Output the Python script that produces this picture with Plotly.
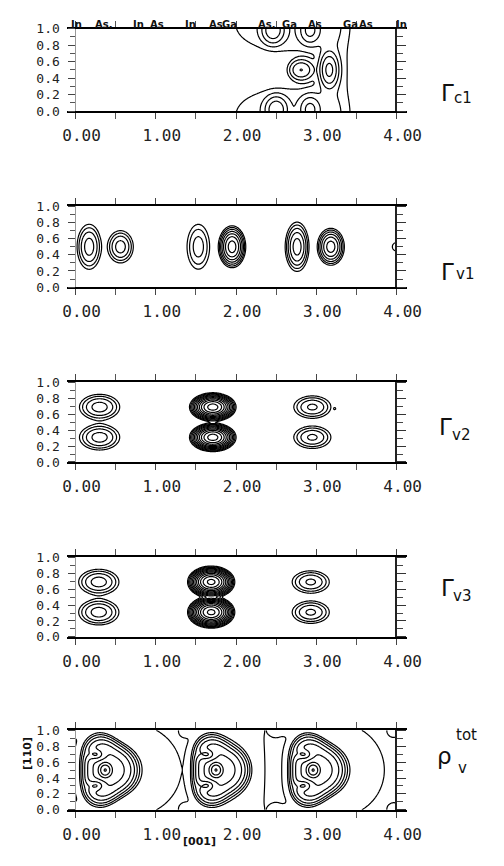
import numpy as np
import plotly.graph_objects as go

W, H = 504, 866

# ---------------- data ----------------
x_tick_vals = [0, 1, 2, 3, 4]
x_tick_text = ["0.00", "1.00", "2.00", "3.00", "4.00"]
y_tick_vals = [0.0, 0.2, 0.4, 0.6, 0.8, 1.0]
y_tick_text = ["0.0", "0.2", "0.4", "0.6", "0.8", "1.0"]

atom_labels = ["In", "As.", "In", "As", "In", "As", "Ga", "As.", "Ga", "As", "Ga", "As", "In"]
atom_x = [0.01, 0.35, 0.79, 1.02, 1.43, 1.75, 1.92, 2.39, 2.67, 2.98, 3.42, 3.62, 4.06]

# lobe parameters:
# centre x, centre y, peak height, width x, width y, shape exponent, triangularity
c1_x = [2.46, 2.92, 2.50, 2.92, 2.81, 3.16, 2.60, 2.60, 3.21]
c1_y = [0.98, 0.98, 0.02, 0.02, 0.50, 0.50, 1.05, -0.05, 0.50]
c1_amp = [4.5, 3.0, 4.5, 3.0, 2.8, 6.5, 0.6, 0.6, 0.6]
c1_sx = [0.075, 0.07, 0.075, 0.07, 0.085, 0.06, 0.59, 0.59, 0.165]
c1_sy = [0.085, 0.09, 0.085, 0.09, 0.07, 0.11, 0.31, 0.31, 2.0]
c1_p = [2, 2, 2, 2, 2, 2, 4, 4, 2]
c1_t = [0, 0, 0, 0, 0, 0, 0, 0, 0]

v1_x = [0.17, 0.56, 1.53, 1.95, 2.76, 3.18, 4.00]
v1_y = [0.50, 0.50, 0.50, 0.50, 0.50, 0.50, 0.50]
v1_amp = [6.4, 6.4, 3.8, 31.5, 10.9, 18.5, 1.4]
v1_sx = [0.078, 0.083, 0.086, 0.065, 0.068, 0.07, 0.065]
v1_sy = [0.145, 0.104, 0.17, 0.099, 0.14, 0.095, 0.065]
v1_p = [2, 2, 2, 2, 2, 2, 2]
v1_t = [0, 0, 0, 0, 0, 0, 0]

v2_x = [0.30, 0.30, 1.71, 1.71, 2.95, 2.95, 3.23]
v2_y = [0.69, 0.31, 0.69, 0.31, 0.69, 0.31, 0.67]
v2_amp = [6.4, 6.4, 262, 262, 5.5, 5.5, 1.03]
v2_sx = [0.13, 0.13, 0.087, 0.087, 0.125, 0.125, 0.012]
v2_sy = [0.083, 0.083, 0.054, 0.054, 0.076, 0.076, 0.012]
v2_p = [2, 2, 2, 2, 2, 2, 2]
v2_t = [0, 0, 0, 0, 0, 0, 0]

v3_x = [0.29, 0.29, 1.69, 1.69, 2.93, 2.93]
v3_y = [0.69, 0.31, 0.69, 0.31, 0.69, 0.31]
v3_amp = [6.4, 6.4, 400, 400, 5.5, 5.5]
v3_sx = [0.13, 0.13, 0.085, 0.085, 0.125, 0.125]
v3_sy = [0.083, 0.083, 0.058, 0.058, 0.076, 0.076]
v3_p = [2, 2, 2, 2, 2, 2]
v3_t = [0, 0, 0, 0, 0, 0]

# total valence density: per atom (envelope, two dips, centre peak, tail) + small edge maxima
tot_x = [0.39, 0.27, 0.27, 0.37, 0.67,
         1.77, 1.65, 1.65, 1.75, 2.00,
         2.98, 2.86, 2.86, 2.96, 3.26,
         0.00, 0.00, 1.38, 1.38, 2.50, 2.50, 2.64, 2.64, 3.97, 3.97]
tot_y = [0.50, 0.69, 0.31, 0.50, 0.50,
         0.50, 0.69, 0.31, 0.50, 0.50,
         0.50, 0.69, 0.31, 0.50, 0.50,
         0.00, 1.00, 0.00, 1.00, 0.00, 1.00, 0.00, 1.00, 0.00, 1.00]
tot_amp = [12.0, -6.5, -6.5, 32.0, 0.6,
           12.0, -6.5, -6.5, 32.0, 0.6,
           12.0, -6.5, -6.5, 32.0, 0.6,
           0.25, 0.25, 0.25, 0.25, 0.25, 0.25, 0.2, 0.2, 0.25, 0.25]
tot_sx = [0.25, 0.07, 0.07, 0.045, 0.34,
          0.25, 0.07, 0.07, 0.045, 0.185,
          0.25, 0.07, 0.07, 0.045, 0.31,
          0.06, 0.06, 0.06, 0.06, 0.06, 0.06, 0.05, 0.05, 0.06, 0.06]
tot_sy = [0.30, 0.05, 0.05, 0.05, 0.31,
          0.30, 0.05, 0.05, 0.05, 1.0,
          0.30, 0.05, 0.05, 0.05, 0.31,
          0.06, 0.06, 0.06, 0.06, 0.06, 0.06, 0.05, 0.05, 0.06, 0.06]
tot_p = [4, 2, 2, 2, 2,
         4, 2, 2, 2, 2,
         4, 2, 2, 2, 2,
         2, 2, 2, 2, 2, 2, 2, 2, 2, 2]
tot_t = [0.1, 0, 0, 0, 0,
         0.1, 0, 0, 0, 0,
         0.1, 0, 0, 0, 0,
         0, 0, 0, 0, 0, 0, 0, 0, 0, 0]

# contour levels: first level, ratio between successive levels, count, extra single levels
level_first = [0.35, 1.0, 1.0, 1.0, 1.0]
level_ratio = [2.0, 1.7, 1.7, 1.7, 1.6]
level_count = [6, 10, 14, 14, 9]
level_extra = [[], [], [], [], [0.1]]

label_main = ["Γ", "Γ", "Γ", "Γ", "ρ"]
label_sub = ["c1", "v1", "v2", "v3", "v"]

# ---------------- layout helpers ----------------
panel_px = [(22, 106), (203, 285), (382, 463), (560, 641), (736, 817)]
X_RANGE = [-0.11, 4.13]
X_DOM = [65 / W, 418 / W]
X0_PAPER = 74 / W
X4_PAPER = 407 / W

gx = np.linspace(0.0, 4.0, 401)
gy = np.linspace(0.0, 1.0, 121)
GX, GY = np.meshgrid(gx, gy)


def density(bx, by, ba, bsx, bsy, bp, bt):
    z = np.zeros_like(GX)
    for x0, y0, a, sx, sy, p, t in zip(bx, by, ba, bsx, bsy, bp, bt):
        u = (GX - x0) / sx
        v = (GY - y0) / sy
        d = np.sqrt(u ** 2 + v ** 2)
        if t:
            d = d / (1.0 + t * np.cos(3.0 * np.arctan2(v, u)))
        z += a * np.exp(-0.5 * d ** p)
    return np.round(np.log(np.clip(z, 1e-9, None)), 3)


panels = [
    (c1_x, c1_y, c1_amp, c1_sx, c1_sy, c1_p, c1_t),
    (v1_x, v1_y, v1_amp, v1_sx, v1_sy, v1_p, v1_t),
    (v2_x, v2_y, v2_amp, v2_sx, v2_sy, v2_p, v2_t),
    (v3_x, v3_y, v3_amp, v3_sx, v3_sy, v3_p, v3_t),
    (tot_x, tot_y, tot_amp, tot_sx, tot_sy, tot_p, tot_t),
]

fig = go.Figure()
XTICKFONT = dict(family="DejaVu Sans Mono", size=16, color="#222")
YTICKFONT = dict(family="DejaVu Sans Mono", size=13, color="#222")
BLACK = [[0, "black"], [1, "black"]]

layout = dict(
    width=W, height=H, margin=dict(l=0, r=0, t=0, b=0),
    paper_bgcolor="white", plot_bgcolor="white", showlegend=False,
)

annotations = []
for i, pars in enumerate(panels):
    n = i + 1
    sfx = "" if n == 1 else str(n)
    top, bot = panel_px[i]
    ydom = [1 - bot / H, 1 - top / H]
    z = density(*pars)
    start = np.log(level_first[i])
    size = np.log(level_ratio[i])
    fig.add_trace(go.Contour(
        x=gx, y=gy, z=z, xaxis="x" + sfx, yaxis="y" + sfx,
        contours=dict(coloring="lines", start=start, end=start + size * (level_count[i] - 1), size=size),
        colorscale=BLACK, line=dict(width=1.2), showscale=False, hoverinfo="skip",
    ))
    for lev in level_extra[i]:
        fig.add_trace(go.Contour(
            x=gx, y=gy, z=z, xaxis="x" + sfx, yaxis="y" + sfx,
            contours=dict(coloring="lines", start=np.log(lev), end=np.log(lev) + 0.001, size=1.0),
            colorscale=BLACK, line=dict(width=1.2), showscale=False, hoverinfo="skip",
        ))
    layout["xaxis" + sfx] = dict(
        domain=X_DOM, range=X_RANGE, anchor="y" + sfx,
        showline=True, linewidth=2, linecolor="black", mirror="allticks",
        ticks="outside", ticklen=6, tickwidth=1, tickcolor="#444",
        tickvals=x_tick_vals, ticktext=x_tick_text, tickfont=XTICKFONT,
        ticklabelstandoff=3, ticklabelshift=6,
        minor=dict(dtick=0.5, tick0=0, ticks="outside", ticklen=5, tickcolor="#555"),
        showgrid=False, zeroline=False, fixedrange=True,
    )
    layout["yaxis" + sfx] = dict(
        domain=ydom, range=[0, 1], anchor="free", position=X0_PAPER,
        showline=True, linewidth=0.8, linecolor="#999",
        ticks="outside", ticklen=7, tickcolor="#444",
        tickvals=y_tick_vals, ticktext=y_tick_text, tickfont=YTICKFONT,
        ticklabelstandoff=6,
        minor=dict(dtick=0.1, tick0=0, ticks="outside", ticklen=5, tickcolor="#555"),
        showgrid=False, zeroline=False, fixedrange=True,
    )
    ridx = 5 + n
    fig.add_trace(go.Scatter(x=[None], y=[None], xaxis="x" + sfx, yaxis="y" + str(ridx),
                             showlegend=False, hoverinfo="skip"))
    layout["yaxis" + str(ridx)] = dict(
        domain=ydom, range=[0, 1], anchor="free", position=X4_PAPER, side="right",
        overlaying="y" + sfx,
        showline=True, linewidth=1.5, linecolor="#222",
        ticks="outside", ticklen=9, tickcolor="#333", tickvals=y_tick_vals, showticklabels=False,
        minor=dict(dtick=0.1, tick0=0, ticks="outside", ticklen=6, tickcolor="#444"),
        showgrid=False, zeroline=False, fixedrange=True,
    )

# right-hand panel labels
main_pos = [(469, 72), (469, 254), (467, 427), (469, 606), (467, 777)]
sub_pos = [(487, 81), (489, 261), (485, 436), (486, 611), (482, 786)]
for i in range(5):
    annotations.append(dict(text=label_main[i], x=main_pos[i][0] / W, y=1 - main_pos[i][1] / H,
                            xref="paper", yref="paper", showarrow=False,
                            font=dict(family="DejaVu Sans", size=23, color="#111")))
    annotations.append(dict(text=label_sub[i], x=sub_pos[i][0] / W, y=1 - sub_pos[i][1] / H,
                            xref="paper", yref="paper", showarrow=False,
                            font=dict(family="DejaVu Sans", size=15, color="#111")))
annotations.append(dict(text="tot", x=493 / W, y=1 - 752 / H, xref="paper", yref="paper",
                        showarrow=False, font=dict(family="DejaVu Sans", size=15, color="#111")))

# atom labels above the first panel
for lab, ax in zip(atom_labels, atom_x):
    annotations.append(dict(text="<b>" + lab + "</b>", x=ax, y=1 - 10 / H, xref="x", yref="paper",
                            showarrow=False, font=dict(family="DejaVu Sans", size=10, color="#111")))

# axis titles
annotations.append(dict(text="<b>[110]</b>", x=15 / W, y=1 - 778 / H, xref="paper", yref="paper",
                        textangle=-90, showarrow=False,
                        font=dict(family="DejaVu Sans", size=11, color="#111")))
annotations.append(dict(text="<b>[001]</b>", x=203 / W, y=1 - 858 / H, xref="paper", yref="paper",
                        showarrow=False, font=dict(family="DejaVu Sans", size=11, color="#111")))

layout["annotations"] = annotations
fig.update_layout(**layout)
fig.write_html("out.html", config={"displayModeBar": False},
               post_script="document.body.style.margin='0';document.body.style.overflow='hidden';")
